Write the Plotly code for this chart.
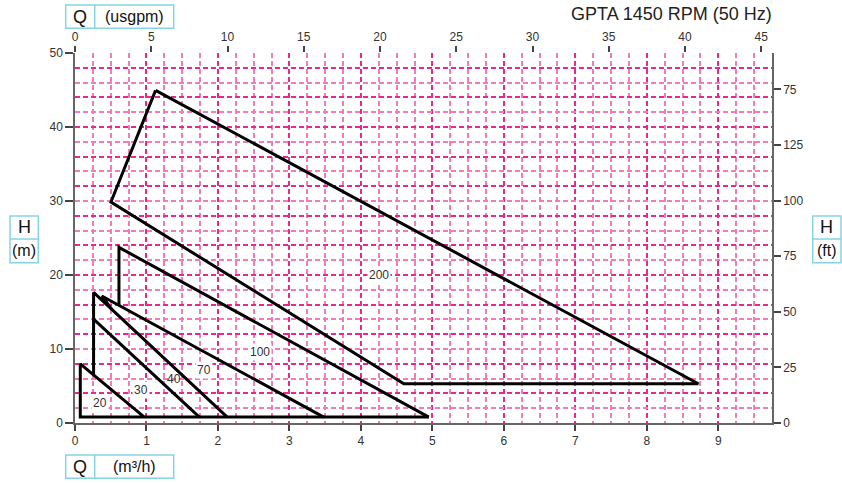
import plotly.graph_objects as go

# ---------------- data ----------------
base_x = [4.95, 0.074, 0.074, 0.97]
base_y = [0.8, 0.8, 8.0, 0.8]
c30_x = [0.26, 1.74]
c30_y = [14.05, 0.8]
c40_x = [0.26, 0.26, 2.13]
c40_y = [6.5, 17.65, 0.8]
c70_x = [0.52, 0.375, 3.48]
c70_y = [15.3, 17.16, 0.8]
c100_x = [0.615, 0.615, 4.95]
c100_y = [15.9, 23.73, 0.8]
c200_x = [1.127, 8.72, 4.60, 0.503, 1.127]
c200_y = [44.95, 5.31, 5.31, 29.86, 44.95]

label_text = ["20", "30", "40", "70", "100", "200"]
label_x = [0.344, 0.92, 1.38, 1.81, 2.59, 4.25]
label_y = [2.7, 4.5, 5.95, 7.2, 9.54, 19.95]

x_ticks = [0, 1, 2, 3, 4, 5, 6, 7, 8, 9]
usgpm_ticks = [0, 5, 10, 15, 20, 25, 30, 35, 40, 45]
m_ticks = [0, 10, 20, 30, 40, 50]
m_grid_dark = [4, 8, 12, 16, 20, 24, 28, 32, 36, 40, 44, 48]
m_grid_light = [2, 6, 10, 14, 18, 22, 26, 30, 34, 38, 42, 46]
ft_ticks = [0, 25, 50, 75, 100, 125, 150]
ft_ticktext = ["0", "25", "50", "75", "100", "125", "75"]

title_text = "GPTA 1450 RPM (50 Hz)"

# ---------------- figure ----------------
W, H = 842, 483
L, R, T, B = 75, 70, 53, 60
PW, PH = W - L - R, H - T - B


def PX(px):
    return (px - L) / PW


def PY(py):
    return (H - B - py) / PH


FONT = "Liberation Sans, Arial, sans-serif"
DARK = "#ed2590"
LIGHT = "#f37cb8"
BOX = "#86d3e3"
DASH = "5px,3px"
GW = 1.5

fig = go.Figure()
line = dict(color="black", width=3)
for xs, ys in [(base_x, base_y), (c30_x, c30_y), (c40_x, c40_y),
               (c70_x, c70_y), (c100_x, c100_y), (c200_x, c200_y)]:
    fig.add_trace(go.Scatter(x=xs, y=ys, mode="lines", line=line,
                             showlegend=False, hoverinfo="skip"))

# invisible traces to activate secondary axes
inv = dict(mode="markers", marker=dict(opacity=0), showlegend=False, hoverinfo="skip")
fig.add_trace(go.Scatter(x=[0], y=[0], xaxis="x2", yaxis="y2", **inv))
fig.add_trace(go.Scatter(x=[0], y=[0], xaxis="x", yaxis="y3", **inv))
fig.add_trace(go.Scatter(x=[0], y=[0], xaxis="x", yaxis="y4", **inv))

for t, xv, yv in zip(label_text, label_x, label_y):
    bg = "rgba(255,255,255,0)" if t == "40" else "white"
    fig.add_annotation(x=xv, y=yv, xref="x", yref="y", text=t, showarrow=False,
                       bgcolor=bg, borderpad=1,
                       font=dict(family=FONT, size=12, color="#333"))

tickfont = dict(family=FONT, size=12, color="#333")
fig.update_layout(
    width=W, height=H,
    margin=dict(l=L, r=R, t=T, b=B, pad=0),
    paper_bgcolor="white", plot_bgcolor="white",
    xaxis=dict(range=[0, PW / 71.48], tickvals=x_ticks, ticks="outside", ticklen=6,
               tickcolor="#444", tickwidth=1.5, showline=True, linecolor="#666", linewidth=1.5,
               zeroline=False, showgrid=True, gridcolor=DARK, griddash=DASH, gridwidth=GW,
               minor=dict(dtick=0.25, tick0=0, showgrid=True, gridcolor=LIGHT,
                          griddash=DASH, gridwidth=GW),
               tickfont=tickfont, anchor="y"),
    # main y axis: carries the dark horizontal grid only
    yaxis=dict(range=[0, 50], tickvals=m_grid_dark, showticklabels=False, ticks="",
               showline=False, zeroline=False, showgrid=True, gridcolor=DARK,
               griddash=DASH, gridwidth=GW, anchor="x"),
    # overlay: light horizontal grid
    yaxis4=dict(range=[0, 50], tickvals=m_grid_light, showticklabels=False, ticks="",
                showline=False, zeroline=False, showgrid=True, gridcolor=LIGHT,
                griddash=DASH, gridwidth=GW, overlaying="y", anchor="x"),
    # overlay: left metre axis with labels
    yaxis3=dict(range=[0, 50], tickvals=m_ticks, ticks="outside", ticklen=8,
                tickcolor="#444", tickwidth=1.5, showline=True, linecolor="#666", linewidth=1.5,
                zeroline=False, showgrid=False, tickfont=tickfont, overlaying="y",
                side="left", anchor="x"),
    xaxis2=dict(range=[0, PW / 15.25], tickvals=usgpm_ticks, overlaying="x", side="top",
                ticks="outside", ticklen=6, tickcolor="#444", tickwidth=1.5,
                showline=False, showgrid=False, zeroline=False, tickfont=tickfont, anchor="y2"),
    yaxis2=dict(range=[0, PH / 2.224], tickvals=ft_ticks, ticktext=ft_ticktext,
                overlaying="y", side="right", ticks="outside", ticklen=7, tickcolor="#444",
                tickwidth=1.5, showline=True, linecolor="#666", linewidth=1.5,
                showgrid=False, zeroline=False, tickfont=tickfont, anchor="x2"),
)

# title
fig.add_annotation(x=PX(773.5), y=PY(13.5), xref="paper", yref="paper", text=title_text,
                   showarrow=False, xanchor="right", yanchor="middle",
                   font=dict(family=FONT, size=18, color="#222"))

# label boxes
def hbox(x0, x1, xd, y0, y1, left, right):
    fig.add_shape(type="rect", xref="paper", yref="paper", x0=PX(x0), x1=PX(x1),
                  y0=PY(y1), y1=PY(y0), line=dict(color=BOX, width=1.5))
    fig.add_shape(type="line", xref="paper", yref="paper", x0=PX(xd), x1=PX(xd),
                  y0=PY(y1), y1=PY(y0), line=dict(color=BOX, width=1.5))
    yc = (y0 + y1) / 2
    fig.add_annotation(x=PX((x0 + xd) / 2), y=PY(yc), xref="paper", yref="paper", text=left,
                       showarrow=False, xanchor="center", yanchor="middle",
                       font=dict(family=FONT, size=18, color="#111"))
    fig.add_annotation(x=PX((xd + x1) / 2), y=PY(yc), xref="paper", yref="paper", text=right,
                       showarrow=False, xanchor="center", yanchor="middle",
                       font=dict(family=FONT, size=16, color="#111"))


def vbox(x0, x1, y0, y1, yd, top, bottom):
    fig.add_shape(type="rect", xref="paper", yref="paper", x0=PX(x0), x1=PX(x1),
                  y0=PY(y1), y1=PY(y0), line=dict(color=BOX, width=1.5))
    fig.add_shape(type="line", xref="paper", yref="paper", x0=PX(x0), x1=PX(x1),
                  y0=PY(yd), y1=PY(yd), line=dict(color=BOX, width=1.5))
    xc = (x0 + x1) / 2
    fig.add_annotation(x=PX(xc), y=PY((y0 + yd) / 2), xref="paper", yref="paper", text=top,
                       showarrow=False, xanchor="center", yanchor="middle",
                       font=dict(family=FONT, size=18, color="#111"))
    fig.add_annotation(x=PX(xc), y=PY((yd + y1) / 2), xref="paper", yref="paper", text=bottom,
                       showarrow=False, xanchor="center", yanchor="middle",
                       font=dict(family=FONT, size=16, color="#111"))


hbox(65.7, 173.7, 94.7, 5, 28.3, "Q", "(usgpm)")
hbox(65.7, 173.7, 94.7, 455, 478.3, "Q", "(m³/h)")
vbox(10, 38.3, 216, 262.7, 239, "H", "(m)")
vbox(812.7, 841, 216, 262.7, 239, "H", "(ft)")

fig.write_html("out.html", config={"displayModeBar": False},
               post_script="document.body.style.margin='0';document.body.style.padding='0';")
